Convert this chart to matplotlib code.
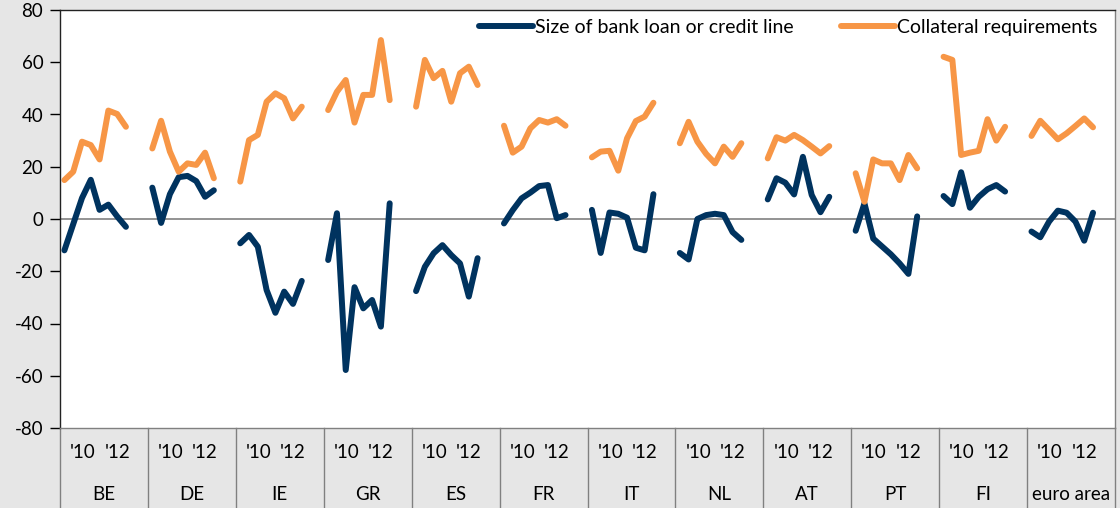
import numpy as np
import matplotlib.pyplot as plt

plt.rcParams['font.family'] = ['Lato', 'DejaVu Sans']
plt.rcParams['axes.unicode_minus'] = False

countries = ['BE', 'DE', 'IE', 'GR', 'ES', 'FR', 'IT', 'NL', 'AT', 'PT', 'FI', 'euro area']
year_labels = ["'10", "'12"]

# half-yearly survey rounds, 8 per country
loan_size = {
    'BE': [-12, -2, 8, 15, 3.5, 5.5, 1, -3],
    'DE': [12, -1.5, 9.5, 16, 16.5, 14.5, 8.5, 11],
    'IE': [-9.3, -6.1, -10.6, -27.2, -35.9, -27.8, -32.5, -23.7],
    'GR': [-15.7, 2.2, -57.8, -26.1, -34.2, -31, -41.2, 6],
    'ES': [-27.6, -18.3, -13.1, -10, -13.8, -17, -29.7, -15],
    'FR': [-1.7, 3.4, 7.9, 10.1, 12.6, 13, 0.3, 1.5],
    'IT': [3.5, -13, 2.5, 2, 0.5, -11, -12, 9.5],
    'NL': [-13, -15.5, 0, 1.5, 2, 1.5, -5, -8],
    'AT': [7.5, 15.6, 13.9, 9.4, 23.8, 9.2, 2.6, 8.5],
    'PT': [-4.5, 6, -7.5, -10.5, -13.5, -17, -21, 1],
    'FI': [8.8, 5.7, 17.9, 4.3, 8.5, 11.4, 13, 10.5],
    'euro area': [-4.8, -7, -1, 3.2, 2.4, -1, -8.3, 2.4],
}
collateral = {
    'BE': [14.9, 18.1, 29.6, 28.3, 22.8, 41.5, 40.2, 35.3],
    'DE': [27, 37.6, 25.8, 18.1, 21.3, 20.7, 25.4, 15.6],
    'IE': [14.3, 30.2, 32.2, 44.9, 48.1, 46.2, 38.5, 43],
    'GR': [41.7, 48.7, 53.2, 36.9, 47.5, 47.5, 68.5, 45.5],
    'ES': [43, 60.9, 53.9, 56.7, 44.9, 55.8, 58.3, 51.3],
    'FR': [35.7, 25.4, 27.7, 34.7, 37.9, 36.9, 38.2, 35.7],
    'IT': [23.6, 25.8, 26.1, 18.5, 30.9, 37.5, 39.2, 44.5],
    'NL': [29, 37.2, 29.6, 24.9, 21.3, 27.7, 23.8, 29],
    'AT': [23.2, 31.3, 30, 32.2, 30.2, 27.7, 25.1, 27.9],
    'PT': [17.5, 6.6, 22.8, 21.3, 21.3, 14.9, 24.5, 19.4],
    'FI': [62.1, 60.9, 24.5, 25.4, 26.1, 38.2, 30, 35.3],
    'euro area': [31.8, 37.6, 34.1, 30.5, 32.8, 35.6, 38.5, 35.1],
}

navy = '#00335f'
orange = '#f79646'
bg = '#e6e6e6'
slots = 10  # 8 rounds + 2 empty slots per country

fig = plt.figure(figsize=(11.2, 5.08), dpi=100, facecolor=bg)
ax = fig.add_axes([60 / 1120, 80 / 508, 1055 / 1120, 418 / 508])
ax.set_facecolor('white')

for g, c in enumerate(countries):
    x = g * slots + np.arange(8)
    ax.plot(x, loan_size[c], color=navy, lw=4.3, solid_capstyle='round',
            solid_joinstyle='round', label='Size of bank loan or credit line' if g == 0 else None)
    ax.plot(x, collateral[c], color=orange, lw=4.3, solid_capstyle='round',
            solid_joinstyle='round', label='Collateral requirements' if g == 0 else None)

ax.axhline(0, color='#808080', lw=1.2, zorder=1)
ax.set_xlim(-0.5, len(countries) * slots - 0.5)
ax.set_ylim(-80, 80)
ax.set_yticks(np.arange(-80, 81, 20))
ax.tick_params(axis='y', direction='out', length=7, width=1, labelsize=13.5, pad=5)
ax.set_xticks([])
for s in ax.spines.values():
    s.set_color('#222222')
    s.set_linewidth(1)
ax.spines['right'].set_color('#808080')
ax.spines['bottom'].set_color('#808080')

# category band below the plot
trans = ax.get_xaxis_transform()
for g in range(len(countries) + 1):
    ax.plot([g * slots - 0.5] * 2, [0, -80 / 418], transform=trans, color='#808080',
            lw=1, clip_on=False)
for g, c in enumerate(countries):
    ax.text(g * slots + 2.1, -24 / 418, year_labels[0], transform=trans, ha='center',
            va='center', fontsize=13.5)
    ax.text(g * slots + 6, -24 / 418, year_labels[1], transform=trans, ha='center',
            va='center', fontsize=13.5)
    ax.text(g * slots + 4.5, -66 / 418, c, transform=trans, ha='center',
            va='center', fontsize=13.5)

ax.legend(loc='upper right', bbox_to_anchor=(1.0, 1.02), ncol=2, frameon=False,
          fontsize=14, handlelength=2.8, columnspacing=2.4, handletextpad=0.1)

fig.savefig('out.png', dpi=100, facecolor=bg)
